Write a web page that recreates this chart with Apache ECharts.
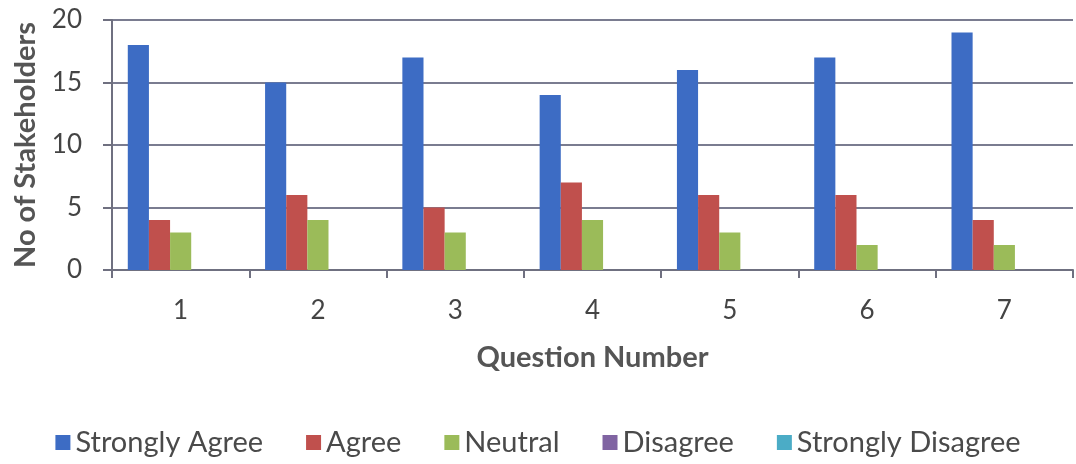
<!DOCTYPE html>
<html><head><meta charset="utf-8">
<script src="https://cdn.jsdelivr.net/npm/echarts@6/dist/echarts.min.js"></script>
<style>html,body{margin:0;padding:0;background:#fff}#c{width:1076px;height:464px}</style>
</head><body><div id="c"></div>
<script>
const categories = ['1','2','3','4','5','6','7'];
const stronglyAgree = [18,15,17,14,16,17,19];
const agree = [4,6,5,7,6,6,4];
const neutral = [3,4,3,4,3,2,2];
const disagree = [0,0,0,0,0,0,0];
const stronglyDisagree = [0,0,0,0,0,0,0];
const seriesNames = ['Strongly Agree','Agree','Neutral','Disagree','Strongly Disagree'];
const colors = ['#3d6cc4','#c0504d','#9bbb59','#8064a2','#4bacc6'];
const data = [stronglyAgree, agree, neutral, disagree, stronglyDisagree];
const font = 'Lato, "Open Sans", sans-serif';
const chart = echarts.init(document.getElementById('c'));
chart.setOption({
  animation:false,
  color: colors,
  grid:{left:112,right:3,top:20,bottom:194},
  legend:{top:423,left:'center',itemWidth:15,itemHeight:15,itemGap:43,icon:'rect',
    textStyle:{fontFamily:font,fontSize:29,color:'#4a4a4a'},data:seriesNames},
  xAxis:{type:'category',data:categories,name:'Question Number',nameLocation:'middle',nameGap:73,
    nameTextStyle:{fontFamily:font,fontSize:29,fontWeight:'bold',color:'#555'},
    axisLine:{lineStyle:{color:'#6f7080',width:2}},
    axisTick:{show:true,length:8,lineStyle:{color:'#6f7080',width:2}},
    axisLabel:{fontFamily:font,fontSize:26,color:'#444',margin:28}},
  yAxis:{type:'value',min:0,max:20,interval:5,name:'No of Stakeholders',nameLocation:'middle',nameGap:72,
    nameTextStyle:{fontFamily:font,fontSize:29,fontWeight:'bold',color:'#555'},
    axisLine:{show:true,lineStyle:{color:'#6f7080',width:2}},
    axisTick:{show:true,length:9,lineStyle:{color:'#6f7080',width:2}},
    splitLine:{lineStyle:{color:'#7a7c90',width:2}},
    axisLabel:{fontFamily:font,fontSize:26,color:'#444',margin:30}},
  series: seriesNames.map((n,i)=>({name:n,type:'bar',data:data[i],barGap:'0%',barCategoryGap:'23%'}))
});
</script></body></html>
